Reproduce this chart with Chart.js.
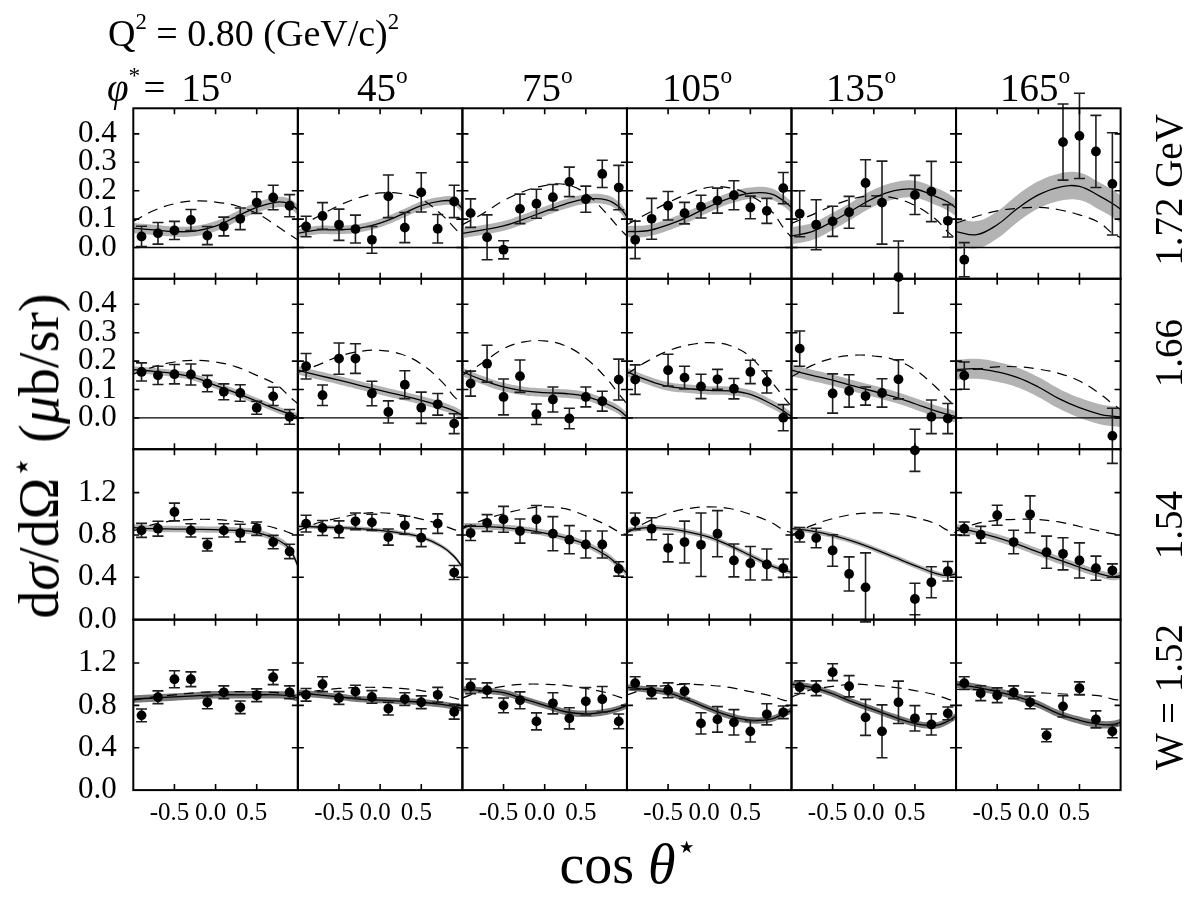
<!DOCTYPE html>
<html><head><meta charset="utf-8">
<script src="https://cdn.jsdelivr.net/npm/chart.js@4.4.1/dist/chart.umd.min.js"></script>
<style>
html,body{margin:0;padding:0;background:#fff;width:1195px;height:899px;overflow:hidden;position:relative;font-family:"Liberation Serif",serif;}
canvas{position:absolute;}
.lbl{position:absolute;white-space:nowrap;color:#000;line-height:1;font-family:"Liberation Serif",serif;}
.sup{font-size:0.6em;position:relative;top:-0.75em;}
.rot{transform:translate(-50%,-50%) rotate(-90deg);transform-origin:50% 50%;}
</style></head><body>
<script>
// ---------- axes / labels ----------
const cosTheta = [-0.9,-0.7,-0.5,-0.3,-0.1,0.1,0.3,0.5,0.7,0.9];
const curveCos = [-1,-0.75,-0.5,-0.25,0,0.25,0.5,0.75,0.9,1];
const phiLabels = ['15','45','75','105','135','165'];
const wLabels = ['1.72 GeV','1.66','1.54','W = 1.52'];
const xTickVals = [-0.5,0,0.5];
const yTicksLow = [0,0.1,0.2,0.3,0.4];
const yTicksHigh = [0,0.4,0.8,1.2];
const yRangeLow = [-0.11,0.49];
const yRangeHigh = [0,1.61];

// ---------- W = 1.72 GeV ----------
const sigW172 = [
 [0.039,0.05,0.06,0.097,0.042,0.074,0.101,0.158,0.176,0.147],
 [0.074,0.111,0.080,0.065,0.027,0.18,0.07,0.194,0.066,0.162],
 [0.121,0.036,-0.008,0.136,0.154,0.177,0.231,0.17,0.259,0.211],
 [0.027,0.101,0.147,0.121,0.144,0.165,0.184,0.141,0.129,0.209],
 [0.119,0.08,0.092,0.124,0.227,0.158,-0.104,0.185,0.197,0.094],
 [-0.043,null,null,null,null,null,0.371,0.393,0.338,0.224]];
const errW172 = [
 [0.036,0.038,0.032,0.037,0.032,0.033,0.038,0.038,0.043,0.039],
 [0.036,0.047,0.055,0.049,0.047,0.075,0.053,0.069,0.05,0.057],
 [0.05,0.079,0.032,0.052,0.051,0.045,0.052,0.046,0.048,0.078],
 [0.066,0.072,0.05,0.038,0.04,0.044,0.051,0.04,0.044,0.055],
 [0.081,0.088,0.053,0.056,0.082,0.146,0.127,0.069,0.106,0.057],
 [0.06,null,null,null,null,null,0.134,0.15,0.127,0.18]];
const fitW172 = [
 [0.068,0.062,0.056,0.058,0.075,0.108,0.141,0.16,0.154,0.133],
 [0.05,0.062,0.062,0.068,0.086,0.115,0.147,0.164,0.162,0.138],
 [0.05,0.062,0.076,0.1,0.127,0.153,0.17,0.168,0.144,0.109],
 [0.056,0.059,0.08,0.109,0.144,0.174,0.191,0.189,0.165,0.142],
 [0.041,0.056,0.092,0.133,0.174,0.2,0.205,0.18,0.16,0.139],
 [0.056,0.045,0.08,0.138,0.185,0.212,0.215,0.18,0.155,0.135]];
const bandW172 = [0.018,0.015,0.017,0.02,0.03,0.048];
const modelW172 = [
 [0.092,0.13,0.154,0.164,0.16,0.147,0.12,0.075,0.045,0.027],
 [0.07,0.11,0.148,0.176,0.192,0.19,0.17,0.115,0.07,0.04],
 [0.08,0.12,0.165,0.198,0.218,0.222,0.19,0.12,0.07,0.04],
 [0.08,0.12,0.158,0.19,0.212,0.21,0.183,0.13,0.07,0.035],
 [0.085,0.115,0.147,0.172,0.182,0.174,0.148,0.1,0.055,0.03],
 [0.086,0.11,0.129,0.138,0.141,0.133,0.115,0.086,0.05,0.035]];

// ---------- W = 1.66 GeV ----------
const sigW166 = [
 [0.162,0.15,0.154,0.153,0.121,0.092,0.088,0.036,0.076,0.004],
 [0.182,0.08,0.209,0.209,0.086,0.021,0.117,0.036,0.048,-0.02],
 [0.121,0.191,0.074,0.147,0.013,0.065,-0.002,0.074,0.059,0.135],
 [0.135,null,0.168,0.142,0.111,0.136,0.103,0.162,0.127,0.001],
 [0.244,null,0.086,0.095,0.077,0.088,0.136,-0.114,0.004,-0.002],
 [0.149,null,null,null,null,null,null,null,null,-0.063]];
const errW166 = [
 [0.032,0.032,0.034,0.037,0.029,0.028,0.029,0.023,0.032,0.026],
 [0.045,0.036,0.055,0.052,0.043,0.039,0.049,0.055,0.038,0.035],
 [0.044,0.065,0.063,0.057,0.036,0.044,0.036,0.035,0.035,0.072],
 [0.052,null,0.056,0.04,0.043,0.035,0.036,0.041,0.039,0.046],
 [0.062,null,0.069,0.057,0.032,0.05,0.069,0.074,0.059,0.053],
 [0.048,null,null,null,null,null,null,null,null,0.097]];
const fitW166 = [
 [0.17,0.164,0.156,0.142,0.115,0.088,0.059,0.029,0.014,0.004],
 [0.168,0.15,0.133,0.115,0.097,0.08,0.062,0.041,0.025,0.009],
 [0.162,0.133,0.109,0.095,0.089,0.086,0.076,0.05,0.028,0.004],
 [0.162,0.133,0.111,0.103,0.097,0.095,0.083,0.05,0.025,0.004],
 [0.168,0.15,0.133,0.113,0.094,0.074,0.05,0.025,0.012,0.004],
 [0.17,0.173,0.162,0.142,0.109,0.068,0.036,0.013,0.006,0.004]];
const bandW166 = [0.012,0.015,0.015,0.015,0.02,0.035];
const modelW166 = [
 [0.154,0.18,0.197,0.203,0.197,0.18,0.15,0.115,0.075,0.05],
 [0.16,0.187,0.217,0.234,0.238,0.225,0.19,0.128,0.075,0.05],
 [0.15,0.195,0.244,0.268,0.271,0.254,0.21,0.14,0.085,0.05],
 [0.155,0.2,0.236,0.257,0.265,0.255,0.215,0.13,0.075,0.04],
 [0.145,0.185,0.21,0.221,0.218,0.205,0.17,0.11,0.065,0.04],
 [0.165,0.172,0.18,0.18,0.172,0.157,0.13,0.085,0.05,0.03]];

// ---------- W = 1.54 GeV ----------
const sigW154 = [
 [0.843,0.859,1.017,0.843,0.707,0.843,0.818,0.859,0.733,0.644],
 [0.907,0.866,0.853,0.929,0.919,0.78,0.891,0.774,0.907,0.445],
 [0.818,0.913,0.948,0.837,0.948,0.812,0.755,0.71,0.71,0.479],
 [0.929,0.859,0.676,0.733,0.707,0.812,0.559,0.533,0.521,0.486],
 [0.802,0.771,0.653,0.432,0.305,null,null,0.195,0.353,0.457],
 [0.859,0.802,0.986,0.733,0.995,0.637,0.622,0.559,0.486,0.464]];
const errW154 = [
 [0.066,0.07,0.084,0.063,0.059,0.063,0.083,0.063,0.063,0.068],
 [0.079,0.071,0.08,0.079,0.076,0.076,0.085,0.084,0.092,0.066],
 [0.07,0.079,0.122,0.114,0.13,0.161,0.133,0.127,0.127,0.068],
 [0.079,0.104,0.13,0.198,0.3,0.218,0.155,0.158,0.147,0.087],
 [0.068,0.092,0.149,0.161,0.326,null,null,0.149,0.146,0.092],
 [0.063,0.079,0.095,0.111,0.174,0.152,0.152,0.166,0.114,0.063]];
const fitW154 = [
 [0.869,0.859,0.856,0.853,0.85,0.843,0.824,0.755,0.669,0.511],
 [0.881,0.875,0.869,0.859,0.843,0.818,0.78,0.691,0.597,0.495],
 [0.881,0.881,0.869,0.85,0.818,0.774,0.71,0.606,0.511,0.438],
 [0.843,0.869,0.859,0.827,0.78,0.7,0.606,0.511,0.47,0.448],
 [0.859,0.837,0.796,0.739,0.669,0.59,0.511,0.438,0.416,0.432],
 [0.869,0.827,0.774,0.71,0.637,0.564,0.495,0.432,0.407,0.416]];
const bandW154 = [0.03,0.02,0.03,0.025,0.025,0.035];
const modelW154 = [
 [0.84,0.9,0.935,0.947,0.945,0.93,0.905,0.86,0.82,0.79],
 [0.84,0.915,0.96,1.0,1.01,0.99,0.95,0.895,0.85,0.83],
 [0.86,0.94,1.0,1.045,1.065,1.048,0.98,0.895,0.83,0.8],
 [0.82,0.925,1.005,1.05,1.065,1.05,0.995,0.92,0.85,0.82],
 [0.8,0.89,0.954,0.995,1.008,1.0,0.964,0.907,0.843,0.82],
 [0.837,0.907,0.938,0.948,0.945,0.923,0.88,0.837,0.812,0.8]];

// ---------- W = 1.52 GeV ----------
const sigW152 = [
 [0.706,0.877,1.047,1.047,0.829,0.924,0.782,0.896,1.066,0.924],
 [0.9,1.0,0.87,0.93,0.88,0.77,0.86,0.83,0.9,0.74],
 [0.98,0.943,0.8,0.848,0.649,0.82,0.678,0.839,0.858,0.649],
 [1.01,0.924,0.943,0.934,0.63,0.668,0.64,0.555,0.716,0.735],
 [0.972,0.962,1.114,0.981,0.687,0.555,0.829,0.678,0.62,0.725],
 [1.01,0.915,0.896,0.924,0.829,0.517,0.791,0.962,0.668,0.555]];
const errW152 = [
 [0.06,0.06,0.08,0.07,0.06,0.06,0.06,0.06,0.07,0.06],
 [0.06,0.07,0.06,0.06,0.06,0.06,0.06,0.06,0.07,0.07],
 [0.07,0.07,0.07,0.08,0.08,0.1,0.1,0.13,0.12,0.07],
 [0.06,0.06,0.07,0.07,0.1,0.12,0.12,0.1,0.1,0.06],
 [0.06,0.07,0.08,0.1,0.17,0.25,0.2,0.12,0.1,0.06],
 [0.06,0.07,0.07,0.06,0.06,0.06,0.1,0.06,0.08,0.06]];
const fitW152 = [
 [0.86,0.87,0.88,0.89,0.9,0.9,0.9,0.9,0.89,0.87],
 [0.92,0.9,0.88,0.86,0.85,0.84,0.83,0.81,0.79,0.77],
 [0.95,0.94,0.92,0.86,0.8,0.74,0.72,0.74,0.77,0.8],
 [0.97,0.95,0.92,0.85,0.77,0.7,0.66,0.67,0.72,0.75],
 [1.0,0.97,0.91,0.83,0.76,0.69,0.63,0.61,0.65,0.7],
 [1.0,0.97,0.93,0.88,0.81,0.72,0.66,0.62,0.62,0.64]];
const bandW152 = [0.035,0.03,0.03,0.03,0.03,0.035];
const modelW152 = [
 [0.85,0.88,0.9,0.92,0.93,0.93,0.93,0.92,0.9,0.89],
 [0.9,0.94,0.96,0.97,0.97,0.96,0.94,0.9,0.87,0.85],
 [0.87,0.94,0.98,1.0,1.0,0.99,0.96,0.92,0.88,0.86],
 [0.9,0.96,0.99,1.0,0.99,0.97,0.93,0.89,0.85,0.84],
 [0.88,0.95,0.98,1.0,0.99,0.97,0.94,0.9,0.86,0.84],
 [0.95,0.95,0.94,0.93,0.92,0.91,0.9,0.89,0.86,0.85]];

const rows = [
 {sig:sigW172, err:errW172, fit:fitW172, band:bandW172, model:modelW172, ticks:yTicksLow, range:yRangeLow, bandColor:'#b3b3b3', zero:true},
 {sig:sigW166, err:errW166, fit:fitW166, band:bandW166, model:modelW166, ticks:yTicksLow, range:yRangeLow, bandColor:'#b3b3b3', zero:true},
 {sig:sigW154, err:errW154, fit:fitW154, band:bandW154, model:modelW154, ticks:yTicksHigh, range:yRangeHigh, bandColor:'#b3b3b3', zero:false},
 {sig:sigW152, err:errW152, fit:fitW152, band:bandW152, model:modelW152, ticks:yTicksHigh, range:yRangeHigh, bandColor:'#7a7a7a', zero:false}];

// ---------- layout ----------
const GX0 = 133.3, PW = 164.55, GY0 = 108.3, PH = 170.45, M = 80;
const YAXW = 76, XAXH = 40;
const FONT = 'Liberation Serif';

const panelDeco = {
  id:'panelDeco',
  beforeDatasetDraw(chart, args, opts){
    if (args.index !== 4) return;
    const {ctx, chartArea:a, scales:{x, y}} = chart;
    ctx.save();
    if (opts.zero){
      const y0 = y.getPixelForValue(0);
      ctx.strokeStyle = '#000'; ctx.lineWidth = 1.3;
      ctx.beginPath(); ctx.moveTo(a.left, y0); ctx.lineTo(a.right, y0); ctx.stroke();
    }
    ctx.strokeStyle = '#1e1e1e'; ctx.lineWidth = 1.6;
    opts.pts.forEach(p => {
      const px = x.getPixelForValue(p.x);
      const y1 = y.getPixelForValue(p.y - p.e), y2 = y.getPixelForValue(p.y + p.e);
      ctx.beginPath();
      ctx.moveTo(px, y1); ctx.lineTo(px, y2);
      ctx.moveTo(px - 5.5, y1); ctx.lineTo(px + 5.5, y1);
      ctx.moveTo(px - 5.5, y2); ctx.lineTo(px + 5.5, y2);
      ctx.stroke();
    });
    ctx.restore();
  },
  afterDraw(chart, args, opts){
    const {ctx, chartArea:a, scales:{x, y}} = chart;
    ctx.save();
    ctx.strokeStyle = '#000'; ctx.lineWidth = 1.6;
    ctx.beginPath();
    xTickVals.forEach(v => {
      const px = x.getPixelForValue(v);
      ctx.moveTo(px, a.top); ctx.lineTo(px, a.top + 6);
      ctx.moveTo(px, a.bottom); ctx.lineTo(px, a.bottom - 6);
    });
    opts.yTicks.forEach(v => {
      const py = y.getPixelForValue(v);
      if (py > a.bottom - 1 || py < a.top + 1) return;
      ctx.moveTo(a.left, py); ctx.lineTo(a.left + 6, py);
      ctx.moveTo(a.right, py); ctx.lineTo(a.right - 6, py);
    });
    ctx.stroke();
    ctx.lineWidth = 2;
    ctx.strokeRect(a.left, a.top, a.right - a.left, a.bottom - a.top);
    ctx.restore();
  }
};

function xy(xs, ys){ return xs.map((v, i) => ({x: v, y: ys[i]})); }

rows.forEach((R, r) => phiLabels.forEach((phi, c) => {
  const px0 = GX0 + c * PW, py0 = GY0 + r * PH;
  const left = Math.floor(px0 - M), top = Math.floor(py0 - M);
  const w = Math.ceil(px0 + PW + M) - left, h = Math.ceil(py0 + PH + M) - top;
  const cv = document.createElement('canvas');
  cv.width = w; cv.height = h;
  cv.style.left = left + 'px'; cv.style.top = top + 'px';
  cv.style.width = w + 'px'; cv.style.height = h + 'px';
  document.body.appendChild(cv);
  const showY = c === 0, showX = r === rows.length - 1;
  const pad = {left: px0 - left - (showY ? YAXW : 0), top: py0 - top,
               right: left + w - (px0 + PW), bottom: top + h - (py0 + PH) - (showX ? XAXH : 0)};

  const fit = R.fit[c], bw = R.band[c];
  const hi = fit.map(v => v + bw), lo = fit.map(v => v - bw);
  const pts = [];
  cosTheta.forEach((ct, i) => { if (R.sig[c][i] !== null) pts.push({x: ct, y: R.sig[c][i], e: R.err[c][i]}); });

  new Chart(cv, {
    type: 'scatter',
    data: {datasets: [
      {type:'line', order:6, data: xy(curveCos, hi), borderWidth:0, borderColor:'rgba(0,0,0,0)', pointRadius:0, tension:0.4, fill:'+1', backgroundColor:R.bandColor},
      {type:'line', order:5, data: xy(curveCos, lo), borderWidth:0, borderColor:'rgba(0,0,0,0)', pointRadius:0, tension:0.4, fill:false},
      {type:'line', order:3, data: xy(curveCos, fit), borderColor:'#000', borderWidth:1.3, pointRadius:0, tension:0.4, fill:false},
      {type:'line', order:4, data: xy(curveCos, R.model[c]), borderColor:'#000', borderWidth:1.2, borderDash:[10,7], pointRadius:0, tension:0.4, fill:false},
      {type:'scatter', order:1, data: pts, pointRadius:4.9, pointHoverRadius:4.9, backgroundColor:'#000', borderColor:'#000', borderWidth:0, clip:false}
    ]},
    options: {
      responsive:false, animation:false, events:[],
      layout:{padding:pad},
      plugins:{legend:{display:false}, tooltip:{enabled:false},
        panelDeco:{pts: pts, zero: R.zero, yTicks: R.ticks}},
      scales:{
        x:{type:'linear', min:-1, max:1, position:'bottom', display: showX,
           afterFit: s => { s.height = showX ? XAXH : 0; },
           afterBuildTicks: s => { s.ticks = xTickVals.map(v => ({value: v})); },
           grid:{display:false, drawTicks:false}, border:{display:false},
           ticks:{color:'#000', font:{family:FONT, size:25}, padding:8, labelOffset:-5, autoSkip:false, maxRotation:0, minRotation:0,
                  callback: v => Number(v).toFixed(1)}},
        y:{type:'linear', min:R.range[0], max:R.range[1], position:'left', display: showY,
           afterFit: s => { s.width = showY ? YAXW : 0; },
           afterBuildTicks: s => { s.ticks = R.ticks.map(v => ({value: v})); },
           grid:{display:false, drawTicks:false}, border:{display:false},
           ticks:{color:'#000', font:{family:FONT, size:31}, padding:16.6, autoSkip:false,
                  callback: v => Number(v).toFixed(1)}}
      }
    },
    plugins:[panelDeco]
  });
}));

// ---------- text labels ----------
function addLabel(html, style, cls){
  const d = document.createElement('div');
  d.className = 'lbl' + (cls ? ' ' + cls : '');
  d.innerHTML = html;
  Object.assign(d.style, style);
  document.body.appendChild(d);
  return d;
}
addLabel('Q<span class="sup">2</span> = 0.80 (GeV/c)<span class="sup">2</span>', {left:'108px', top:'14px', fontSize:'38px'});
addLabel('<i>φ</i><span class="sup">*</span>&#8202;= ' + phiLabels[0] + '<span class="sup">o</span>', {left:'107px', top:'68px', fontSize:'39px', wordSpacing:'6px'});
const colLeft = [357, 522, 662, 826, 1000];
phiLabels.slice(1).forEach((p, i) => addLabel(p + '<span class="sup">o</span>', {left: colLeft[i] + 'px', top:'68px', fontSize:'39px'}));
const rowLabelY = [190, 353, 525, 697];
wLabels.forEach((t, i) => addLabel(t, {left:'1168px', top: rowLabelY[i] + 'px', fontSize:'39px'}, 'rot'));
addLabel('d<i>σ</i>/dΩ<span class="sup">⋆</span> (<i>μ</i>b/sr)', {left:'39px', top:'456px', fontSize:'56px'}, 'rot');
addLabel('cos <i>θ</i><span class="sup">⋆</span>', {left:'628px', top:'864px', fontSize:'56px', transform:'translate(-50%,-50%)'});
</script>
</body></html>
